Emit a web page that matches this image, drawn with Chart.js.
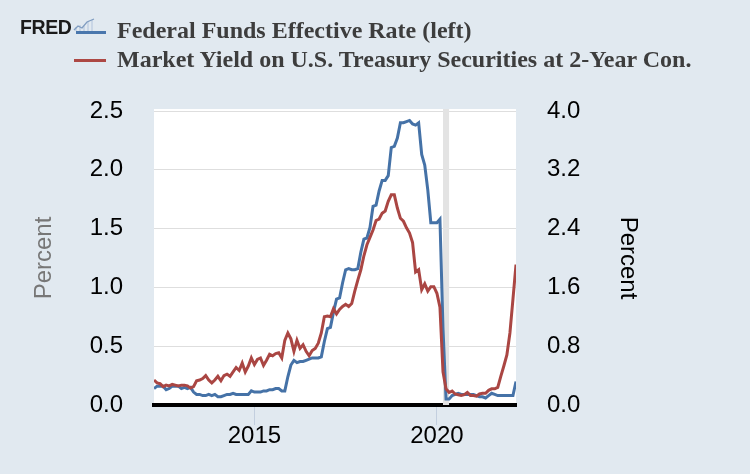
<!DOCTYPE html>
<html>
<head>
<meta charset="utf-8">
<script src="https://cdn.jsdelivr.net/npm/chart.js@4.4.1/dist/chart.umd.min.js"></script>
<style>
  html, body { margin: 0; padding: 0; background: #e1e9f0; }
  #wrap { position: relative; width: 750px; height: 474px; overflow: hidden; }
  #chart { position: absolute; left: 0; top: 0; }
  .fred { position: absolute; left: 20px; top: 17px; font: bold 19.5px 'Liberation Sans', Arial, sans-serif; line-height: 20px; color: #1b1b1b; letter-spacing: -0.4px; }
  .fred-icon { position: absolute; left: 73px; top: 18px; }
  .swatch { position: absolute; height: 3px; }
  .label { position: absolute; left: 117px; font: bold 24px 'Liberation Serif', 'Times New Roman', serif; line-height: 28px; color: #3d3d3d; white-space: nowrap; }
</style>
</head>
<body>
<div id="wrap">
  <canvas id="chart" width="750" height="474"></canvas>
  <div class="fred">FRED</div>
  <svg class="fred-icon" width="22" height="14" viewBox="0 0 22 14">
    <path d="M3 13V9M7 13V7M11 13V8M15 13V4M19 13V2" stroke="#c9d6e6" stroke-width="2"/>
    <polyline points="1,12 5,8 9,10 14,4 21,1" fill="none" stroke="#7f9cc0" stroke-width="1.3"/>
  </svg>
  <div class="swatch" style="left:76px;top:31px;width:30px;background:#4a77ad"></div>
  <div class="label" style="top:16px">Federal Funds Effective Rate (left)</div>
  <div class="swatch" style="left:74px;top:59px;width:32px;background:#ad4844"></div>
  <div class="label" style="top:45px">Market Yield on U.S. Treasury Securities at 2-Year Con.</div>
</div>
<script>
// monthly observations, Apr 2012 - Mar 2022
const months = [
  '2012-04', '2012-05', '2012-06', '2012-07', '2012-08', '2012-09', '2012-10', '2012-11', '2012-12',
  '2013-01', '2013-02', '2013-03', '2013-04', '2013-05', '2013-06', '2013-07', '2013-08', '2013-09', '2013-10', '2013-11', '2013-12',
  '2014-01', '2014-02', '2014-03', '2014-04', '2014-05', '2014-06', '2014-07', '2014-08', '2014-09', '2014-10', '2014-11', '2014-12',
  '2015-01', '2015-02', '2015-03', '2015-04', '2015-05', '2015-06', '2015-07', '2015-08', '2015-09', '2015-10', '2015-11', '2015-12',
  '2016-01', '2016-02', '2016-03', '2016-04', '2016-05', '2016-06', '2016-07', '2016-08', '2016-09', '2016-10', '2016-11', '2016-12',
  '2017-01', '2017-02', '2017-03', '2017-04', '2017-05', '2017-06', '2017-07', '2017-08', '2017-09', '2017-10', '2017-11', '2017-12',
  '2018-01', '2018-02', '2018-03', '2018-04', '2018-05', '2018-06', '2018-07', '2018-08', '2018-09', '2018-10', '2018-11', '2018-12',
  '2019-01', '2019-02', '2019-03', '2019-04', '2019-05', '2019-06', '2019-07', '2019-08', '2019-09', '2019-10', '2019-11', '2019-12',
  '2020-01', '2020-02', '2020-03', '2020-04', '2020-05', '2020-06', '2020-07', '2020-08', '2020-09', '2020-10', '2020-11', '2020-12',
  '2021-01', '2021-02', '2021-03', '2021-04', '2021-05', '2021-06', '2021-07', '2021-08', '2021-09', '2021-10', '2021-11', '2021-12',
  '2022-01', '2022-02', '2022-03'
];

// Federal Funds Effective Rate (left axis)
const fedFunds = [
  0.14, 0.16, 0.16, 0.16, 0.13, 0.14, 0.16, 0.16, 0.16,
  0.14, 0.15, 0.14, 0.15, 0.11, 0.09, 0.09, 0.08, 0.08, 0.09, 0.08, 0.09,
  0.07, 0.07, 0.08, 0.09, 0.09, 0.10, 0.09, 0.09, 0.09, 0.09, 0.09, 0.12,
  0.11, 0.11, 0.11, 0.12, 0.12, 0.13, 0.13, 0.14, 0.14, 0.12, 0.12, 0.24,
  0.34, 0.38, 0.36, 0.37, 0.37, 0.38, 0.39, 0.40, 0.40, 0.40, 0.41, 0.54,
  0.65, 0.66, 0.79, 0.90, 0.91, 1.04, 1.15, 1.16, 1.15, 1.15, 1.16, 1.30,
  1.41, 1.42, 1.51, 1.69, 1.70, 1.82, 1.91, 1.91, 1.95, 2.19, 2.20, 2.27,
  2.40, 2.40, 2.41, 2.42, 2.39, 2.38, 2.40, 2.13, 2.04, 1.83, 1.55, 1.55,
  1.55, 1.58, 0.65, 0.05, 0.05, 0.08, 0.09, 0.10, 0.09, 0.09, 0.09, 0.09,
  0.09, 0.08, 0.07, 0.07, 0.06, 0.08, 0.10, 0.09, 0.08, 0.08, 0.08, 0.08,
  0.08, 0.08, 0.20
];

// 2-year Treasury constant maturity yield (right axis)
const treasury2y = [
  0.34, 0.30, 0.29, 0.25, 0.27, 0.26, 0.28, 0.27, 0.26,
  0.27, 0.27, 0.26, 0.23, 0.25, 0.33, 0.34, 0.36, 0.40, 0.34, 0.30, 0.34,
  0.39, 0.33, 0.40, 0.42, 0.39, 0.45, 0.51, 0.47, 0.57, 0.45, 0.53, 0.64,
  0.55, 0.62, 0.64, 0.54, 0.61, 0.69, 0.67, 0.70, 0.71, 0.64, 0.88, 0.98,
  0.90, 0.73, 0.88, 0.77, 0.82, 0.73, 0.67, 0.74, 0.77, 0.84, 0.98, 1.20,
  1.21, 1.20, 1.31, 1.24, 1.30, 1.34, 1.37, 1.34, 1.38, 1.55, 1.70, 1.84,
  2.03, 2.18, 2.28, 2.38, 2.51, 2.53, 2.61, 2.64, 2.77, 2.86, 2.86, 2.68,
  2.54, 2.50, 2.41, 2.34, 2.21, 1.81, 1.84, 1.57, 1.65, 1.55, 1.61, 1.61,
  1.52, 1.33, 0.45, 0.22, 0.17, 0.19, 0.15, 0.14, 0.13, 0.14, 0.17, 0.13,
  0.13, 0.12, 0.15, 0.16, 0.16, 0.20, 0.22, 0.22, 0.24, 0.39, 0.53, 0.68,
  0.98, 1.44, 1.91
];

const xTicks = [2015, 2020];
const leftTicks = [0, 0.5, 1.0, 1.5, 2.0, 2.5];
const rightTicks = [0, 0.8, 1.6, 2.4, 3.2, 4.0];
const recession = ['2020-03', '2020-05'];

const toYear = m => Number(m.slice(0, 4)) + (Number(m.slice(5, 7)) - 1) / 12;

const sans = "'Liberation Sans', Arial, sans-serif";
const tickFont = { family: sans, size: 24 };

// page background, white plot area, and the grey recession band
const backdrop = {
  id: 'backdrop',
  beforeDraw(chart) {
    const { ctx, chartArea: a } = chart;
    ctx.save();
    ctx.fillStyle = '#e1e9f0';
    ctx.fillRect(0, 0, chart.width, chart.height);
    ctx.fillStyle = '#ffffff';
    ctx.fillRect(a.left, a.top - 2, a.right - a.left, a.bottom - a.top + 2);
    ctx.restore();
  },
  beforeDatasetsDraw(chart) {
    const { ctx, chartArea: a, scales: { x } } = chart;
    const x0 = x.getPixelForValue(toYear(recession[0]));
    const x1 = x.getPixelForValue(toYear(recession[1]));
    ctx.save();
    ctx.fillStyle = '#e3e3e3';
    ctx.fillRect(x0, a.top - 2, x1 - x0, a.bottom - a.top + 2);
    ctx.restore();
  }
};

new Chart(document.getElementById('chart'), {
  type: 'line',
  data: {
    datasets: [
      {
        label: 'Market Yield on U.S. Treasury Securities at 2-Year Con.',
        data: months.map((m, i) => ({ x: toYear(m), y: treasury2y[i] })),
        yAxisID: 'y1',
        borderColor: '#aa4643',
        borderWidth: 3,
        pointRadius: 0,
        tension: 0,
        order: 0
      },
      {
        label: 'Federal Funds Effective Rate (left)',
        data: months.map((m, i) => ({ x: toYear(m), y: fedFunds[i] })),
        yAxisID: 'y',
        borderColor: '#4572a7',
        borderWidth: 3,
        pointRadius: 0,
        tension: 0,
        order: 1
      }
    ]
  },
  options: {
    responsive: false,
    animation: false,
    events: [],
    layout: { padding: { top: 111, left: 0, right: 0, bottom: 0 } },
    plugins: { legend: { display: false }, tooltip: { enabled: false } },
    scales: {
      x: {
        type: 'linear',
        min: toYear(months[0]),
        max: toYear(months[months.length - 1]),
        afterBuildTicks: s => { s.ticks = xTicks.map(v => ({ value: v })); },
        afterFit: s => { s.height = 69; },
        grid: { drawOnChartArea: false, drawTicks: true, tickLength: 20, color: '#c3cfdf', lineWidth: 1 },
        border: { display: true, color: '#000000', width: 4 },
        ticks: { font: tickFont, color: '#000', padding: -3, maxRotation: 0, autoSkip: false, callback: v => String(v) }
      },
      y: {
        position: 'left',
        min: 0,
        max: 2.5,
        afterBuildTicks: s => { s.ticks = leftTicks.map(v => ({ value: v })); },
        afterFit: s => { s.width = 154; },
        grid: { color: '#dedede', lineWidth: 1, drawTicks: false },
        border: { display: false },
        ticks: { font: tickFont, color: '#000', padding: 31, callback: v => v.toFixed(1) },
        title: { display: true, text: 'Percent', color: '#777777', font: { family: sans, size: 24, lineHeight: 1.2 }, padding: { top: 30, bottom: 0 } }
      },
      y1: {
        position: 'right',
        min: 0,
        max: 4,
        afterBuildTicks: s => { s.ticks = rightTicks.map(v => ({ value: v })); },
        afterFit: s => { s.width = 234; },
        grid: { display: false, drawTicks: false },
        border: { display: false },
        ticks: { font: tickFont, color: '#000', padding: 31, callback: v => v.toFixed(1) },
        title: { display: true, text: 'Percent', color: '#000000', font: { family: sans, size: 24, lineHeight: 1.2 }, padding: { top: 108, bottom: 0 } }
      }
    }
  },
  plugins: [backdrop]
});
</script>
</body>
</html>
